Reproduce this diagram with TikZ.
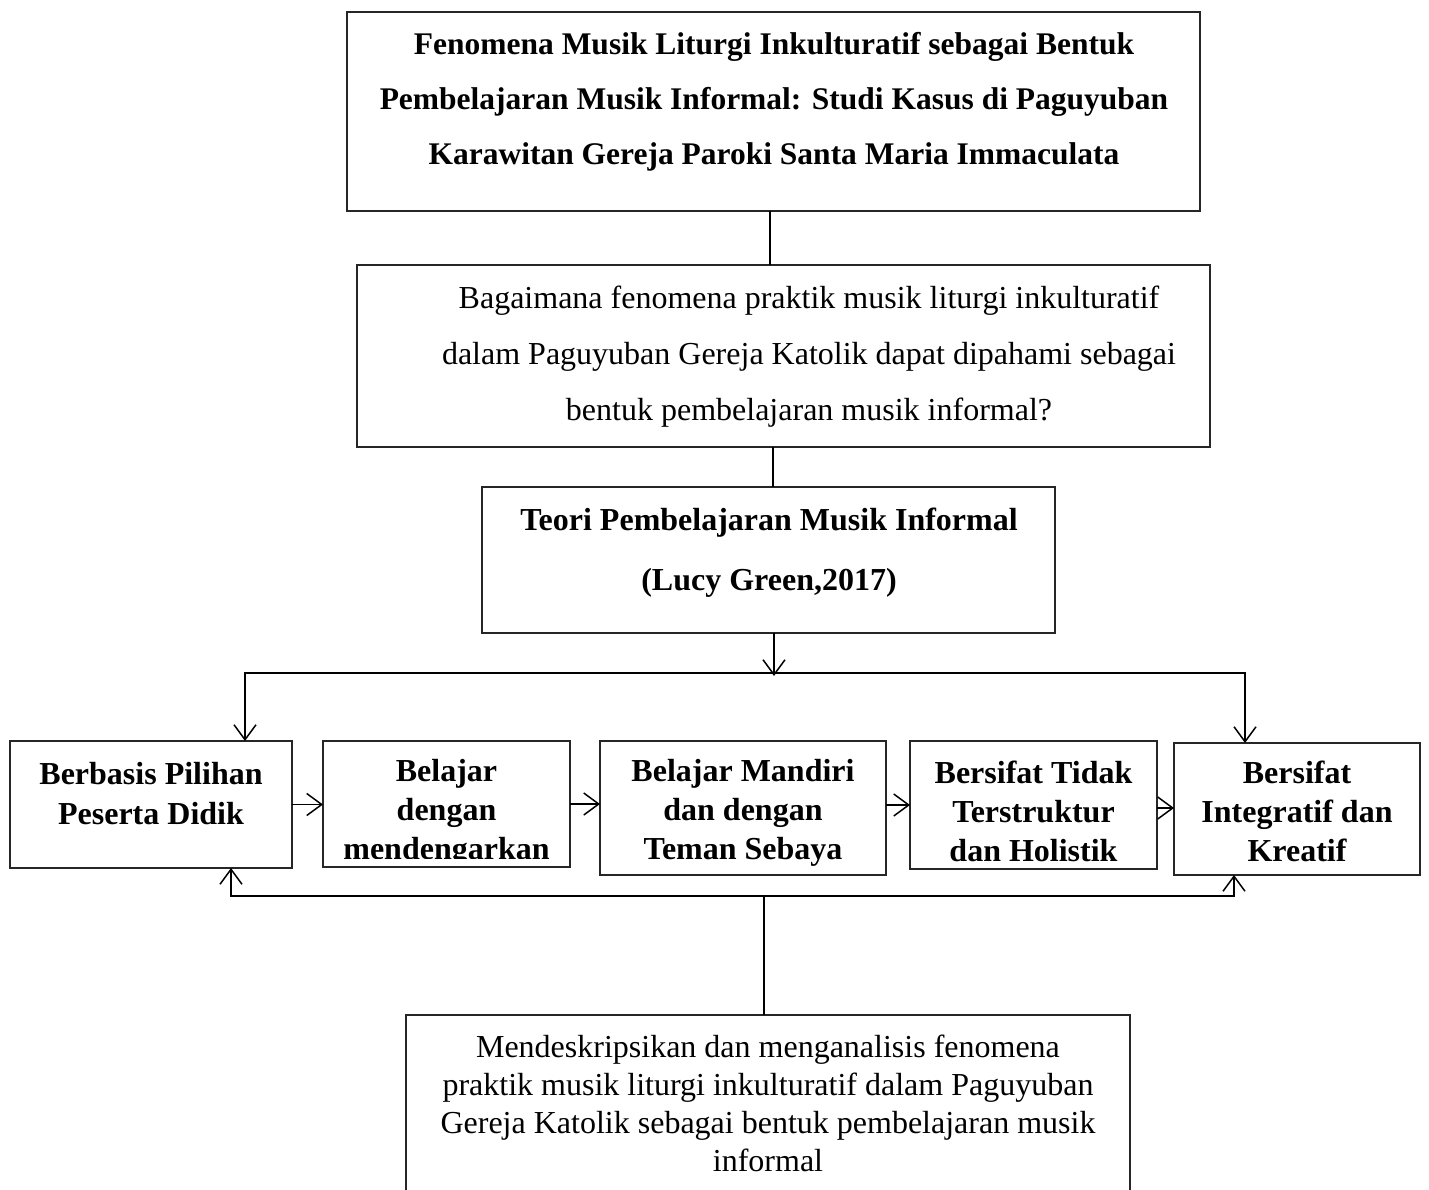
\documentclass[tikz,border=0pt]{standalone}
\usepackage{fontspec}
\setmainfont{Liberation Serif}
\usetikzlibrary{arrows.meta}
\begin{document}
\begin{tikzpicture}[x=1pt,y=-1pt,
  box/.style={draw=black!85, line width=1.3pt, inner sep=0pt, outer sep=0pt},
  txt/.style={inner sep=0pt, align=center},
  conn/.style={line width=1.8pt},
  tip/.tip={Straight Barb[length=15pt,width=22pt,line width=1.5pt]},
  arr/.style={conn, -tip}
]
\useasboundingbox[fill=white] (0,0) rectangle (1429,1190);

% boxes
\node[box, minimum width=853pt, minimum height=199pt] (t1) at (773.5,111.5) {};
\node[box, minimum width=853pt, minimum height=182pt] (q) at (783.5,356) {};
\node[box, minimum width=573pt, minimum height=146pt] (th) at (768.5,560) {};
\node[box, minimum width=282pt, minimum height=127pt] (a) at (151,804.5) {};
\node[box, minimum width=247pt, minimum height=126pt] (b) at (446.5,804) {};
\node[box, minimum width=286pt, minimum height=134pt] (c) at (743,808) {};
\node[box, minimum width=247pt, minimum height=128pt] (d) at (1033.5,805) {};
\node[box, minimum width=246pt, minimum height=132pt] (e) at (1297,809) {};
\node[box, minimum width=724pt, minimum height=190pt] (bot) at (768,1110) {};

% texts
\node[txt, font=\fontsize{31.5}{55}\selectfont\bfseries] (t1txt) at (774,102)
  {Fenomena Musik Liturgi Inkulturatif sebagai Bentuk\\
   Pembelajaran Musik Informal: Studi Kasus di Paguyuban\\
   Karawitan Gereja Paroki Santa Maria Immaculata};
\node[txt, font=\fontsize{32}{56}\selectfont] (qtxt) at (809,357)
  {Bagaimana fenomena praktik musik liturgi inkulturatif\\
   dalam Paguyuban Gereja Katolik dapat dipahami sebagai\\
   bentuk pembelajaran musik informal?};
\node[txt, font=\fontsize{32}{60}\selectfont\bfseries] (thtxt) at (769,553)
  {Teori Pembelajaran Musik Informal\\(Lucy Green,2017)};
\node[txt, font=\fontsize{32}{40}\selectfont\bfseries] (atxt) at (151,793.5)
  {Berbasis Pilihan\\Peserta Didik};
\begin{scope}
  \clip ([yshift=9pt]b.south west) rectangle (b.north east);
  \node[txt, font=\fontsize{32}{39}\selectfont\bfseries] (btxt) at (446.5,813)
    {Belajar\\dengan\\mendengarkan};
\end{scope}
\begin{scope}
  \clip ([yshift=10pt]c.south west) rectangle (c.north east);
  \node[txt, font=\fontsize{32}{39}\selectfont\bfseries] (ctxt) at (743,813)
    {Belajar Mandiri\\dan dengan\\Teman Sebaya};
\end{scope}
\node[txt, font=\fontsize{32}{39}\selectfont\bfseries] (dtxt) at (1033.5,811)
  {Bersifat Tidak\\Terstruktur\\dan Holistik};
\node[txt, font=\fontsize{32}{39}\selectfont\bfseries] (etxt) at (1297,811)
  {Bersifat\\Integratif dan\\Kreatif};
\node[txt, font=\fontsize{32}{38}\selectfont] (bottxt) at (768,1103.5)
  {Mendeskripsikan dan menganalisis fenomena\\
   praktik musik liturgi inkulturatif dalam Paguyuban\\
   Gereja Katolik sebagai bentuk pembelajaran musik\\
   informal};

% connector coordinates
\coordinate (busL) at (245,673);
\coordinate (busR) at (1245,673);
\coordinate (busM) at (774,676);
\coordinate (fbL) at (231,896);
\coordinate (fbR) at (1234,896);
\coordinate (fbM) at (764,896);

% connectors
\draw[conn, line width=1.5pt] ([xshift=-3.5pt]t1.south) -- ([xshift=-3.5pt]t1.south |- q.north);
\draw[conn, line width=1.5pt] ([xshift=4.5pt]th.north |- q.south) -- ([xshift=4.5pt]th.north);
\draw[arr, line width=1.5pt] (busM |- th.south) -- (busM);
\draw[conn, tip-tip] (busL |- a.north) -- (busL) -- (busR) -- (busR |- e.north);
\draw[arr] (a.east) -- (a.east -| b.west);
\draw[arr] (b.east) -- (b.east -| c.west);
\draw[arr] (d.west -| c.east) -- (d.west);
\draw[arr] ([yshift=-3pt]d.east) -- ([yshift=-3pt]d.east -| e.west);
\draw[conn, tip-tip] (fbL |- a.south) -- (fbL) -- (fbR) -- (fbR |- e.south);
\draw[conn] (fbM) -- (fbM |- bot.north);
\end{tikzpicture}
\end{document}
